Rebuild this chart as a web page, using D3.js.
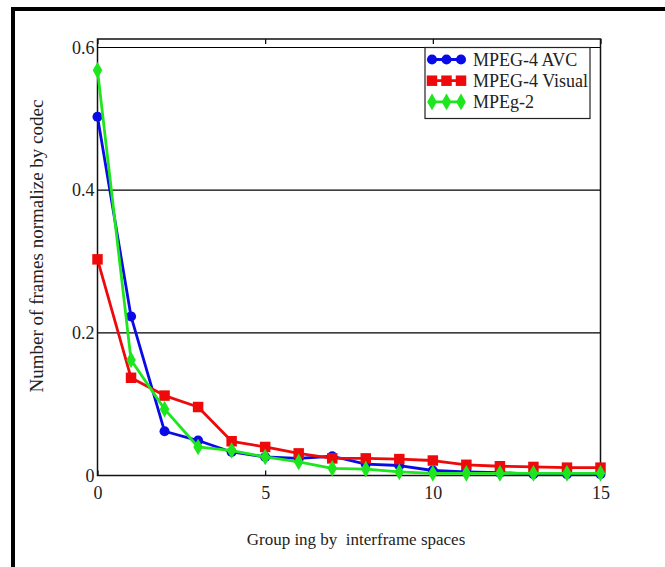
<!DOCTYPE html>
<html>
<head>
<meta charset="utf-8">
<script src="https://cdn.jsdelivr.net/npm/d3@7"></script>
<style>
  body { margin: 0; background: #fff; }
  svg { display: block; font-family: "Liberation Serif", "Times New Roman", serif; }
</style>
</head>
<body>
<div id="chart"></div>
<script>
// Data
const groups = d3.range(0, 16);
const avc    = [0.503, 0.223, 0.062, 0.049, 0.033, 0.026, 0.024, 0.027, 0.016, 0.014, 0.007, 0.005, 0.004, 0.002, 0.002, 0.002];
const visual = [0.303, 0.137, 0.112, 0.096, 0.048, 0.040, 0.031, 0.024, 0.024, 0.023, 0.021, 0.015, 0.013, 0.012, 0.011, 0.011];
const mpeg2  = [0.568, 0.162, 0.093, 0.040, 0.035, 0.026, 0.019, 0.010, 0.009, 0.005, 0.003, 0.003, 0.003, 0.003, 0.003, 0.003];
const seriesNames = ["MPEG-4 AVC", "MPEG-4 Visual", "MPEg-2"];
const xTicks = [0, 5, 10, 15];
const yTicks = [0, 0.2, 0.4, 0.6];

const width = 665, height = 567;
const plot = { left: 97.5, right: 600.5, top: 39, bottom: 475.5 };

const svg = d3.select("#chart")
    .append("svg")
    .attr("width", width)
    .attr("height", height);

svg.append("rect").attr("width", width).attr("height", height).attr("fill", "#fff");

// outer frame (top and left only are visible)
svg.append("path")
    .attr("d", `M13,${height} V9 H${width}`)
    .attr("fill", "none")
    .attr("stroke", "#000")
    .attr("stroke-width", 4);

const x = d3.scaleLinear().domain([0, 15]).range([plot.left, plot.right]);
const y = d3.scaleLinear().domain([0, 0.6]).range([plot.bottom, 47.5]);

// gridlines
svg.append("g")
    .selectAll("line")
    .data(yTicks.filter(d => d > 0))
    .enter()
    .append("line")
    .attr("x1", plot.left).attr("x2", plot.right)
    .attr("y1", d => y(d)).attr("y2", d => y(d))
    .attr("stroke", "#000")
    .attr("stroke-width", 1.2);

// axes
const xAxis = svg.append("g")
    .attr("transform", `translate(0,${plot.bottom})`)
    .call(d3.axisBottom(x).tickValues(xTicks).tickSize(-5).tickSizeOuter(0).tickPadding(11));
const xAxisTop = svg.append("g")
    .attr("transform", `translate(0,${plot.top})`)
    .call(d3.axisTop(x).tickValues(xTicks).tickSize(-5).tickSizeOuter(0).tickFormat(""));
const yAxis = svg.append("g")
    .attr("transform", `translate(${plot.left},0)`)
    .call(d3.axisLeft(y).tickValues(yTicks).tickSize(0).tickPadding(3).tickFormat(d => d === 0 ? "0" : d3.format(".1f")(d)));

[xAxis, xAxisTop, yAxis].forEach(g => {
    g.select(".domain").remove();
    g.attr("font-family", null);
    g.selectAll("line").attr("stroke", "#000").attr("stroke-width", 1.2);
    g.selectAll("text")
        .attr("fill", "#222")
        .style("font-family", "'Liberation Serif', serif")
        .style("font-size", "18px");
});
xAxis.selectAll("text").attr("dy", "0.71em");

// plot box
svg.append("rect")
    .attr("x", plot.left).attr("y", plot.top)
    .attr("width", plot.right - plot.left)
    .attr("height", plot.bottom - plot.top)
    .attr("fill", "none")
    .attr("stroke", "#111")
    .attr("stroke-width", 1.5);

// series
const series = [
    { name: seriesNames[0], values: avc,    color: "#0a0ae6", shape: d3.symbolCircle,  size: 80 },
    { name: seriesNames[1], values: visual, color: "#ee0a0a", shape: d3.symbolSquare,  size: 110 },
    { name: seriesNames[2], values: mpeg2,  color: "#1ee61e", shape: d3.symbolDiamond, size: 80 }
];

const line = d3.line().x((d, i) => x(groups[i])).y(d => y(d));

series.forEach(s => {
    const g = svg.append("g");
    g.append("path")
        .datum(s.values)
        .attr("d", line)
        .attr("fill", "none")
        .attr("stroke", s.color)
        .attr("stroke-width", 2.8)
        .attr("stroke-linejoin", "round");
    g.selectAll("path.mark")
        .data(s.values)
        .enter()
        .append("path")
        .attr("class", "mark")
        .attr("d", d3.symbol().type(s.shape).size(s.size))
        .attr("transform", (d, i) => `translate(${x(groups[i])},${y(d)})`)
        .attr("fill", s.color);
});

// legend
const legend = svg.append("g");
legend.append("rect")
    .attr("x", 425).attr("y", 47.5)
    .attr("width", 165).attr("height", 71)
    .attr("fill", "#fff")
    .attr("stroke", "#222")
    .attr("stroke-width", 1.2);

series.forEach((s, i) => {
    const cy = 59.5 + i * 21.2;
    legend.append("line")
        .attr("x1", 428).attr("x2", 465)
        .attr("y1", cy).attr("y2", cy)
        .attr("stroke", s.color)
        .attr("stroke-width", 2.8);
    legend.selectAll(null)
        .data([432, 446.5, 461])
        .enter()
        .append("path")
        .attr("d", d3.symbol().type(s.shape).size(s.size))
        .attr("transform", d => `translate(${d},${cy})`)
        .attr("fill", s.color);
    legend.append("text")
        .attr("x", 473)
        .attr("y", cy)
        .attr("dy", "0.35em")
        .attr("fill", "#222")
        .style("font-size", "18px")
        .text(s.name);
});

// axis titles
svg.append("text")
    .attr("x", 356)
    .attr("y", 545)
    .attr("text-anchor", "middle")
    .attr("fill", "#222")
    .style("font-size", "17px")
    .style("white-space", "pre")
    .text("Group ing by  interframe spaces");

svg.append("text")
    .attr("transform", "translate(43,246) rotate(-90)")
    .attr("text-anchor", "middle")
    .attr("fill", "#222")
    .style("font-size", "19px")
    .text("Number of frames normalize by codec");
</script>
</body>
</html>
